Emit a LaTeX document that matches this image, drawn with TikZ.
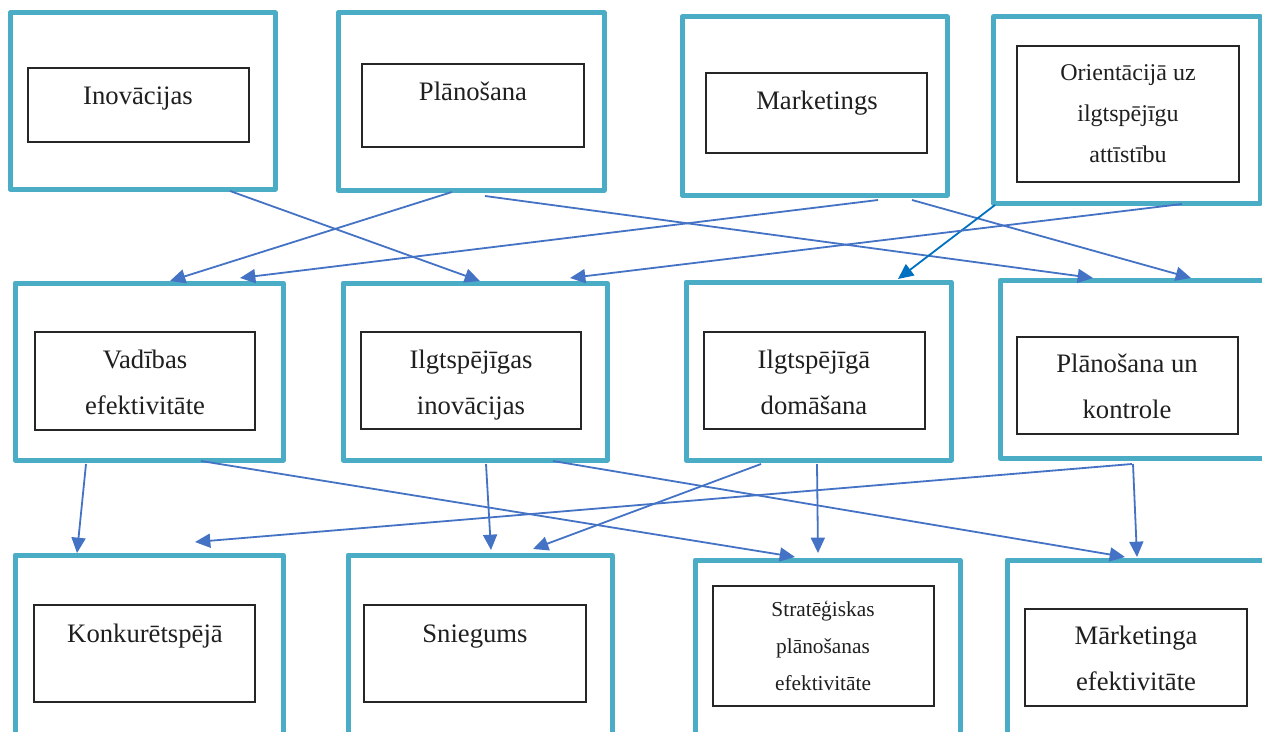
\documentclass[tikz,border=0pt]{standalone}
\usepackage{fontspec}
\setmainfont{Liberation Serif}
\usetikzlibrary{arrows.meta,fit,calc}
\definecolor{boxblue}{RGB}{75,172,198}
\definecolor{arrblue}{RGB}{68,114,196}
\definecolor{darkarr}{RGB}{0,112,192}
\tikzset{
  outerbox/.style={draw=boxblue, line width=3.75pt, inner sep=0pt, outer sep=0pt, line join=round},
  innerbox/.style={draw=black!85, line width=0.8pt, inner sep=0pt, outer sep=0pt},
  lbl/.style={anchor=base, align=center, inner sep=0pt, font=\fontsize{20}{34.5}\selectfont, text=black!88},
  lblmid/.style={lbl, font=\fontsize{18}{30.75}\selectfont},
  lblsmall/.style={lbl, font=\fontsize{16}{27.75}\selectfont},
  conn/.style={draw=arrblue, line width=1.35pt, -{Triangle[length=11.5pt,width=10.5pt]}},
  conndark/.style={conn, draw=darkarr, -{Triangle[length=11.5pt,width=10.5pt,fill=darkarr]}},
}
\begin{document}
\begin{tikzpicture}[x=0.75pt,y=-0.75pt]
\useasboundingbox[fill=white] (0,0) rectangle (1262,731);
% row 1
\node[outerbox, fit={(10,13)(275,189)}] (inov) {};
\node[innerbox, fit={(28,68)(249,142)}] (inovI) {};
\node[lbl] (inovT) at (138,105) {Inovācijas};
\node[outerbox, fit={(338,13)(604,190)}] (plan) {};
\node[innerbox, fit={(362,64)(584,147)}] (planI) {};
\node[lbl] (planT) at (473,101) {Plānošana};
\node[outerbox, fit={(682,17)(947,195)}] (mark) {};
\node[innerbox, fit={(706,73)(927,153)}] (markI) {};
\node[lbl] (markT) at (817,110) {Marketings};
\node[outerbox, fit={(993,17)(1260,203)}] (orie) {};
\node[innerbox, fit={(1017,46)(1239,182)}] (orieI) {};
\node[lblmid] (orieT) at (1128,162) {Orientācijā uz\\ilgtspējīgu\\attīstību};
% row 2
\node[outerbox, fit={(15,283)(283,460)}] (vad) {};
\node[innerbox, fit={(35,332)(255,430)}] (vadI) {};
\node[lbl] (vadT) at (145,414) {Vadības\\efektivitāte};
\node[outerbox, fit={(343,283)(607,460)}] (ilgi) {};
\node[innerbox, fit={(361,332)(581,429)}] (ilgiI) {};
\node[lbl] (ilgiT) at (471,414) {Ilgtspējīgas\\inovācijas};
\node[outerbox, fit={(686,282)(951,460)}] (ilgd) {};
\node[innerbox, fit={(704,332)(925,429)}] (ilgdI) {};
\node[lbl] (ilgdT) at (814,414) {Ilgtspējīgā\\domāšana};
\node[outerbox, fit={(1000,280)(1270,458)}] (plk) {};
\node[innerbox, fit={(1017,337)(1238,434)}] (plkI) {};
\node[lbl] (plkT) at (1127,418) {Plānošana un\\kontrole};
% row 3
\node[outerbox, fit={(15,555)(283,748)}] (konk) {};
\node[innerbox, fit={(34,605)(255,702)}] (konkI) {};
\node[lbl] (konkT) at (145,642) {Konkurētspējā};
\node[outerbox, fit={(348,555)(612,748)}] (snieg) {};
\node[innerbox, fit={(364,605)(586,702)}] (sniegI) {};
\node[lbl] (sniegT) at (475,642) {Sniegums};
\node[outerbox, fit={(695,560)(960,748)}] (strat) {};
\node[innerbox, fit={(713,586)(934,706)}] (stratI) {};
\node[lblsmall] (stratT) at (823,690) {Stratēģiskas\\plānošanas\\efektivitāte};
\node[outerbox, fit={(1007,560)(1270,748)}] (mark2) {};
\node[innerbox, fit={(1025,609)(1247,706)}] (mark2I) {};
\node[lbl] (mark2T) at (1136,690) {Mārketinga\\efektivitāte};
% connectors row 1 -> row 2
\draw[conn] ($(inov.south west)+(220,2)$) -- ($(ilgi.north west)+(137,-2)$);
\draw[conn] ($(plan.south west)+(114,2)$) -- ($(vad.north west)+(155,-2)$);
\draw[conn] ($(plan.south west)+(147,6)$) -- ($(plk.north west)+(93,-2)$);
\draw[conn] ($(mark.south west)+(196,5)$) -- ($(vad.north west)+(225,-5)$);
\draw[conn] ($(mark.south west)+(230,5)$) -- ($(plk.north west)+(191,-2)$);
\draw[conndark] ($(orie.south west)+(2,2)$) -- ($(ilgd.north west)+(212,-3)$);
\draw[conn] ($(orie.south west)+(189,1)$) -- ($(ilgi.north west)+(227,-5)$);
% connectors row 2 -> row 3
\draw[conn] ($(vad.south west)+(71,4)$) -- ($(konk.north west)+(62,-2)$);
\draw[conn] ($(vad.south west)+(186,1)$) -- ($(strat.north west)+(100,-3)$);
\draw[conn] ($(ilgi.south west)+(143,4)$) -- ($(snieg.north west)+(143,-5)$);
\draw[conn] ($(ilgi.south west)+(210,1)$) -- ($(mark2.north west)+(118,-3)$);
\draw[conn] ($(ilgd.south west)+(75,4)$) -- ($(snieg.north west)+(185,-6)$);
\draw[conn] ($(ilgd.south west)+(131,4)$) -- ($(strat.north west)+(123,-7)$);
\draw[conn] ($(plk.south west)+(132,6)$) -- ($(konk.north west)+(180,-13)$);
\draw[conn] ($(plk.south west)+(133,6)$) -- ($(mark2.north west)+(130,-3)$);
\end{tikzpicture}
\end{document}
